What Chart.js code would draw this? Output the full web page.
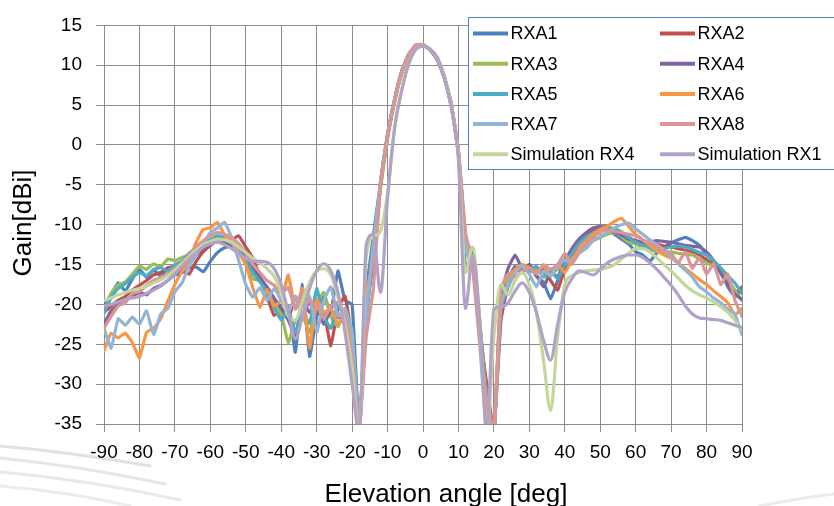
<!DOCTYPE html>
<html>
<head>
<meta charset="utf-8">
<script src="https://cdn.jsdelivr.net/npm/chart.js@4.4.0/dist/chart.umd.min.js"></script>
<style>
html,body{margin:0;padding:0;background:#fff;}
canvas{display:block;}
</style>
</head>
<body>
<canvas id="c" width="834" height="506"></canvas>
<script>
const angles = [-90,-88,-86,-84,-82,-80,-78,-76,-74,-72,-70,-68,-66,-64,-62,-60,-58,-56,-54,-52,-50,-48,-46,-44,-42,-40,-38,-36,-34,-32,-30,-28,-26,-24,-22,-20,-18,-16,-14,-12,-10,-8,-6,-4,-2,0,2,4,6,8,10,12,14,16,18,20,22,24,26,28,30,32,34,36,38,40,42,44,46,48,50,52,54,56,58,60,62,64,66,68,70,72,74,76,78,80,82,84,86,88,90];

const xTicks = [-90,-80,-70,-60,-50,-40,-30,-20,-10,0,10,20,30,40,50,60,70,80,90];
const yTicks = [15,10,5,0,-5,-10,-15,-20,-25,-30,-35];

const seriesNames = ["RXA1","RXA2","RXA3","RXA4","RXA5","RXA6","RXA7","RXA8","Simulation RX4","Simulation RX1"];

const rxa1 = [-20.0,-18.8,-17.3,-18.3,-16.8,-15.6,-16.6,-15.7,-16.4,-15.6,
 -16.3,-16.0,-15.4,-15.3,-15.9,-14.6,-13.5,-12.9,-12.7,-13.6,
 -14.5,-15.8,-16.8,-18.0,-19.6,-21.8,-20.3,-26.0,-17.5,-26.5,
 -21.5,-19.0,-21.0,-15.8,-19.5,-20.0,-36,-18.5,-11.4,-4.8,
 1.4,5.8,9.3,11.4,12.4,12.5,11.9,10.7,8.4,4.8,
 -1.2,-15.5,-14.2,-22.5,-31,-36,-19.5,-16.8,-15.2,-15.8,
 -15.0,-16.5,-17.2,-19.3,-17.0,-14.8,-13.4,-12.2,-11.2,-10.8,
 -10.4,-10.6,-11.2,-11.8,-12.4,-13.4,-13.8,-14.6,-13.5,-12.8,
 -12.3,-11.9,-11.6,-12.0,-12.6,-13.7,-14.6,-15.6,-17.8,-19.0,
 -18.2];

const rxa2 = [-21.0,-20.2,-19.5,-19.0,-18.2,-17.6,-17.0,-16.3,-16.0,-15.4,
 -15.2,-15.8,-16.2,-14.6,-13.4,-12.6,-12.0,-11.7,-11.9,-11.4,
 -12.8,-14.2,-16.5,-19.0,-21.4,-20.5,-21.8,-19.0,-21.5,-19.5,
 -22.8,-21.0,-25.2,-20.5,-19.0,-24.5,-36,-21.0,-14.5,-5.2,
 1.0,5.6,9.1,11.3,12.5,12.6,12.0,10.8,8.6,5.1,
 -0.8,-11.5,-14.8,-23.5,-30,-36,-22.0,-17.5,-15.4,-16.0,
 -15.2,-16.0,-15.5,-17.0,-18.2,-15.5,-14.2,-12.8,-11.6,-10.6,
 -10.4,-10.2,-10.8,-11.0,-11.6,-12.0,-12.2,-12.6,-12.4,-12.7,
 -12.8,-13.0,-13.2,-13.4,-13.8,-14.4,-15.0,-15.6,-16.8,-18.6,
 -17.8];

const rxa3 = [-21.2,-18.6,-17.5,-17.2,-16.2,-15.2,-15.6,-14.9,-15.3,-14.3,
 -14.5,-14.1,-13.8,-13.2,-12.6,-12.0,-11.6,-11.8,-12.3,-13.0,
 -14.2,-16.8,-17.0,-18.6,-20.0,-21.2,-24.8,-22.0,-21.4,-23.5,
 -20.0,-18.5,-21.5,-22.8,-21.0,-26.0,-36,-20.0,-12.2,-5.5,
 0.8,5.4,9.0,11.2,12.3,12.5,12.0,10.9,8.6,5.0,
 -1.0,-12.5,-13.0,-22.0,-31.5,-36,-18.5,-17.0,-15.6,-15.2,
 -16.0,-15.4,-16.6,-16.2,-15.6,-15.0,-14.2,-13.5,-12.6,-12.0,
 -11.6,-11.2,-11.0,-11.5,-12.2,-12.4,-12.9,-13.2,-13.3,-13.5,
 -13.4,-13.6,-13.7,-13.8,-14.3,-14.8,-15.2,-15.8,-16.9,-18.2,
 -19.5];

const rxa4 = [-22.5,-20.8,-20.0,-19.4,-19.0,-18.5,-18.8,-18.0,-17.6,-17.0,
 -16.2,-15.4,-14.6,-13.8,-13.0,-12.5,-12.0,-12.2,-12.8,-13.4,
 -14.0,-15.2,-16.6,-17.8,-19.2,-20.5,-22.0,-24.0,-19.5,-21.0,
 -20.2,-22.5,-20.8,-21.5,-22.5,-25.0,-36,-19.0,-13.0,-5.0,
 1.1,5.6,9.2,11.3,12.4,12.5,12.0,10.8,8.5,5.0,
 -1.0,-12.0,-14.0,-23.0,-32.0,-36,-19.0,-15.5,-13.8,-15.5,
 -15.0,-16.3,-17.8,-16.0,-16.5,-14.6,-13.0,-11.8,-11.0,-10.4,
 -10.2,-10.5,-10.9,-11.3,-11.8,-12.0,-12.3,-12.2,-12.0,-12.1,
 -12.2,-12.4,-12.6,-12.7,-12.8,-13.4,-14.5,-16.1,-17.5,-18.7,
 -19.4];

const rxa5 = [-21.0,-19.2,-18.0,-17.4,-16.6,-16.0,-16.4,-15.6,-15.4,-15.8,
 -15.0,-14.6,-13.6,-12.9,-12.3,-11.9,-11.4,-11.7,-12.3,-13.2,
 -14.6,-16.0,-17.2,-18.4,-20.4,-22.0,-20.6,-23.5,-21.0,-22.4,
 -18.0,-21.5,-23.0,-20.0,-21.8,-23.0,-36,-22.0,-13.2,-4.6,
 1.3,5.7,9.2,11.4,12.4,12.5,12.0,10.8,8.5,5.0,
 -1.1,-12.6,-14.3,-22.5,-32.5,-36,-20.5,-17.8,-16.0,-15.0,
 -15.8,-15.2,-16.4,-15.8,-16.8,-15.0,-13.6,-12.4,-11.5,-11.0,
 -10.6,-10.4,-10.5,-10.9,-11.6,-12.2,-12.6,-13.0,-13.2,-13.0,
 -12.8,-12.7,-12.8,-13.1,-13.5,-13.8,-14.5,-15.4,-16.4,-17.3,
 -18.6];

const rxa6 = [-25.8,-23.6,-24.2,-23.6,-24.8,-26.7,-23.5,-23.0,-21.8,-19.6,
 -17.5,-15.9,-14.7,-12.2,-10.6,-10.4,-9.7,-11.3,-12.2,-13.5,
 -15.0,-17.9,-20.4,-18.1,-20.2,-19.5,-16.3,-20.6,-18.0,-25.5,
 -19.4,-21.0,-20.5,-22.5,-21.0,-25.0,-36,-19.0,-14.0,-5.2,
 1.0,5.5,9.0,11.2,12.3,12.5,12.0,10.8,8.5,5.0,
 -1.0,-12.0,-15.0,-24.0,-33.0,-36,-18.0,-16.5,-15.6,-15.0,
 -15.4,-16.0,-15.2,-16.5,-15.0,-16.0,-14.5,-13.0,-12.0,-11.2,
 -10.6,-10.2,-9.6,-9.2,-10.2,-11.2,-11.9,-12.6,-13.3,-13.8,
 -14.2,-14.8,-15.5,-16.2,-16.9,-17.5,-18.3,-19.0,-19.8,-21.3,
 -20.5];

const rxa7 = [-23.0,-25.5,-21.8,-22.6,-21.6,-22.5,-20.8,-23.8,-21.2,-20.5,
 -18.4,-17.3,-15.2,-13.8,-12.4,-11.0,-10.4,-9.7,-11.6,-14.5,
 -17.5,-19.1,-17.9,-19.5,-18.0,-19.5,-21.0,-19.0,-21.5,-19.0,
 -23.5,-19.5,-17.8,-21.5,-20.5,-23.5,-36,-21.0,-12.6,-4.8,
 1.2,5.7,9.2,11.4,12.4,12.5,12.0,10.8,8.5,5.0,
 -1.2,-13.0,-15.5,-25.0,-36,-36,-20.0,-17.5,-16.0,-15.2,
 -16.2,-17.8,-15.8,-16.4,-15.2,-14.4,-14.8,-13.6,-13.0,-12.0,
 -11.5,-11.0,-10.4,-10.0,-9.8,-10.5,-11.2,-11.9,-12.5,-13.2,
 -14.0,-14.9,-15.7,-16.6,-17.8,-18.4,-19.2,-19.8,-20.6,-21.2,
 -23.8];

const rxa8 = [-23.0,-21.5,-20.2,-19.8,-18.6,-18.4,-17.6,-17.0,-16.6,-16.2,
 -15.5,-14.8,-13.8,-12.8,-12.0,-11.4,-11.0,-11.2,-11.6,-12.4,
 -13.6,-15.0,-16.0,-17.0,-17.6,-18.6,-17.9,-20.6,-18.4,-19.6,
 -20.1,-21.8,-20.2,-19.7,-21.4,-26.6,-36,-24.0,-18.0,-5.0,
 1.2,5.6,9.2,11.4,12.6,12.6,12.0,10.8,8.6,5.2,
 -0.6,-11.0,-15.0,-24.5,-32.0,-36,-18.0,-16.2,-16.6,-15.8,
 -15.4,-16.2,-15.0,-15.6,-15.0,-13.6,-15.0,-13.4,-12.4,-11.6,
 -11.0,-10.7,-10.8,-11.0,-11.2,-11.4,-11.9,-12.3,-12.8,-13.2,
 -13.6,-14.8,-13.4,-15.5,-14.1,-16.2,-14.9,-17.5,-16.2,-19.5,
 -21.5];

const simRx4 = [-19.5,-19.2,-18.8,-18.5,-18.2,-18.0,-17.7,-17.3,-16.9,-16.4,
 -15.7,-14.9,-14.0,-13.2,-12.5,-12.1,-11.8,-11.9,-12.2,-12.8,
 -13.5,-14.2,-14.8,-15.5,-16.5,-18.5,-21.5,-22.0,-19.5,-17.2,
 -15.8,-15.5,-16.3,-19.0,-22.5,-28.0,-36,-14.0,-11.5,-10.8,
 -6.0,2.3,7.0,10.3,12.0,12.4,12.0,11.0,8.6,4.8,
 -1.5,-16.0,-12.8,-22.0,-36,-24.0,-17.5,-18.8,-17.0,-16.0,
 -17.5,-21.0,-27.0,-33.3,-24.0,-17.5,-16.4,-16.0,-15.8,-15.7,
 -15.6,-15.4,-15.0,-14.3,-13.6,-13.0,-13.0,-13.4,-14.2,-15.0,
 -15.8,-16.7,-17.6,-18.3,-18.8,-19.2,-19.7,-20.3,-21.0,-22.0,
 -23.2];

const simRx1 = [-20.2,-20.0,-19.7,-19.4,-19.2,-19.0,-18.6,-18.2,-17.7,-17.0,
 -16.2,-15.2,-14.3,-13.5,-12.8,-12.4,-12.2,-12.5,-13.0,-13.6,
 -14.2,-14.6,-14.6,-14.7,-15.5,-17.5,-21.0,-24.3,-21.5,-18.0,
 -15.8,-14.9,-15.8,-18.5,-23.5,-30.0,-36,-12.5,-11.2,-18.5,
 -6.7,2.1,6.8,10.2,12.0,12.4,12.0,11.0,8.5,4.6,
 -1.8,-20.5,-13.8,-22.0,-36,-20.6,-20.3,-19.8,-18.3,-17.3,
 -18.5,-21.0,-24.5,-27.0,-22.5,-18.5,-16.8,-15.8,-16.0,-16.3,
 -15.6,-14.8,-14.3,-14.0,-13.8,-13.8,-14.1,-14.8,-15.6,-16.6,
 -17.6,-18.8,-20.2,-21.2,-21.7,-21.8,-21.9,-22.0,-22.3,-22.6,
 -22.9];

const seriesValues = [rxa1, rxa2, rxa3, rxa4, rxa5, rxa6, rxa7, rxa8, simRx4, simRx1];
const seriesColors = ["#4F81BD","#C0504D","#9BBB59","#8064A2","#4BACC6","#F79646","#95B3D7","#D99694","#C3D69B","#B3A2C7"];

const datasets = seriesValues.map((vals, i) => {
  const isSim = i >= 8;
  return {
    label: seriesNames[i],
    data: vals.map((v, k) => ({x: angles[k], y: v})),
    borderColor: seriesColors[i],
    backgroundColor: seriesColors[i],
    borderWidth: 3.2,
    pointRadius: 0,
    borderJoinStyle: 'round',
    borderCapStyle: 'round',
    cubicInterpolationMode: isSim ? 'monotone' : 'default',
    tension: isSim ? 0.4 : 0.12,
    fill: false,
    order: seriesValues.length - i
  };
});

const FONT = "'Liberation Sans', Arial, sans-serif";

const backdrop = {
  id: 'backdrop',
  beforeDraw(chart) {
    const ctx = chart.ctx;
    ctx.save();
    ctx.fillStyle = '#ffffff';
    ctx.fillRect(0, 0, chart.width, chart.height);
    // faint slide-background streaks at the bottom corners
    const streaks = [
      [0, 446, 70, 452, 150, 466, 0.55],
      [0, 458, 80, 466, 165, 484, 0.45],
      [0, 472, 90, 480, 180, 500, 0.4],
      [0, 486, 70, 492, 130, 506, 0.35],
      [760, 506, 800, 498, 834, 494, 0.35]
    ];
    ctx.lineCap = 'round';
    streaks.forEach(s => {
      ctx.strokeStyle = 'rgba(200,200,200,' + s[6] + ')';
      ctx.lineWidth = 3;
      ctx.beginPath();
      ctx.moveTo(s[0], s[1]);
      ctx.quadraticCurveTo(s[2], s[3], s[4], s[5]);
      ctx.stroke();
    });
    ctx.restore();
  }
};

const overlay = {
  id: 'overlay',
  afterDraw(chart) {
    const ctx = chart.ctx;
    ctx.save();
    // legend box
    ctx.fillStyle = '#ffffff';
    ctx.fillRect(468.5, 17.5, 380, 152);
    ctx.strokeStyle = '#4F81BD';
    ctx.lineWidth = 1;
    ctx.strokeRect(468.5, 17.5, 380, 152);
    ctx.font = "18px " + FONT;
    ctx.textBaseline = 'middle';
    ctx.textAlign = 'left';
    chart.data.datasets.forEach((ds, i) => {
      const col = i % 2, row = Math.floor(i / 2);
      const y = 33.5 + row * 30.2;
      const x0 = col ? 660 : 473;
      ctx.strokeStyle = ds.borderColor;
      ctx.lineWidth = 4;
      ctx.lineCap = 'butt';
      ctx.beginPath();
      ctx.moveTo(x0, y);
      ctx.lineTo(x0 + 35, y);
      ctx.stroke();
      ctx.fillStyle = '#000000';
      ctx.fillText(ds.label, x0 + 37.5, y + 1);
    });
    // axis titles
    ctx.fillStyle = '#000000';
    ctx.font = "26px " + FONT;
    ctx.textAlign = 'center';
    ctx.textBaseline = 'alphabetic';
    ctx.fillText('Elevation angle [deg]', 446, 501.5);
    ctx.save();
    ctx.translate(31, 223);
    ctx.rotate(-Math.PI / 2);
    ctx.fillText('Gain[dBi]', 0, 0);
    ctx.restore();
    ctx.restore();
  }
};

new Chart(document.getElementById('c'), {
  type: 'line',
  data: { datasets },
  options: {
    responsive: false,
    devicePixelRatio: 1,
    animation: false,
    events: [],
    layout: { padding: { left: 0, top: 17, right: 92, bottom: 0 } },
    plugins: { legend: { display: false }, tooltip: { enabled: false } },
    scales: {
      x: {
        type: 'linear',
        min: -90, max: 90,
        afterFit(s) { s.height = 82; },
        afterBuildTicks(s) { s.ticks = xTicks.map(v => ({ value: v })); },
        ticks: { color: '#000', font: { family: FONT, size: 19 }, padding: 9, maxRotation: 0, autoSkip: false },
        grid: { color: '#8c8c8c', lineWidth: 1, tickLength: 8 },
        border: { color: '#8c8c8c' }
      },
      y: {
        type: 'linear',
        min: -35, max: 15,
        afterFit(s) { s.width = 104; },
        afterBuildTicks(s) { s.ticks = yTicks.map(v => ({ value: v })); },
        ticks: { color: '#000', font: { family: FONT, size: 19 }, padding: 14, autoSkip: false },
        grid: { color: '#8c8c8c', lineWidth: 1, tickLength: 8 },
        border: { color: '#8c8c8c' }
      }
    }
  },
  plugins: [backdrop, overlay]
});
</script>
</body>
</html>
